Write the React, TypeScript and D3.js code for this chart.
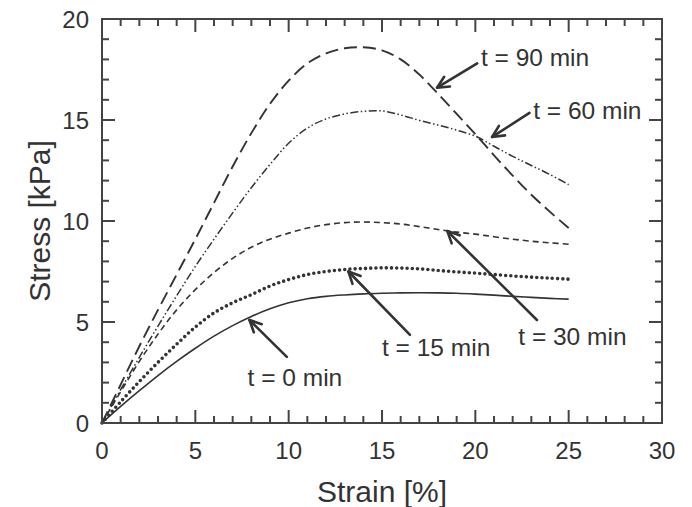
import React from "react";
import * as d3 from "d3";

const strain = [0,1,2,3,4,5,6,7,8,9,10,11,12,13,14,15,16,17,18,19,20,21,22,23,24,25];
const stress0 = [0,0.82,1.6,2.35,3.05,3.7,4.3,4.82,5.27,5.65,5.95,6.15,6.27,6.34,6.39,6.42,6.44,6.45,6.44,6.42,6.38,6.33,6.27,6.22,6.17,6.13];
const stress15 = [0,1.05,2.05,3.0,3.9,4.75,5.45,5.95,6.35,6.78,7.1,7.35,7.5,7.6,7.65,7.68,7.67,7.63,7.55,7.48,7.42,7.35,7.28,7.22,7.17,7.12];
const stress30 = [0,1.55,3.05,4.4,5.6,6.6,7.45,8.15,8.7,9.1,9.4,9.65,9.82,9.92,9.95,9.92,9.85,9.72,9.58,9.45,9.35,9.22,9.1,9.0,8.92,8.85];
const stress60 = [0,1.65,3.25,4.8,6.3,7.75,9.1,10.4,11.65,12.8,13.85,14.6,15.05,15.3,15.43,15.45,15.25,14.98,14.75,14.5,14.2,13.7,13.2,12.75,12.3,11.8];
const stress90 = [0,1.9,3.8,5.6,7.35,9.1,10.9,12.7,14.35,15.8,16.95,17.8,18.3,18.55,18.6,18.45,18.0,17.25,16.3,15.3,14.3,13.25,12.25,11.3,10.45,9.65];

const xTicks = [0,5,10,15,20,25,30];
const yTicks = [0,5,10,15,20];

const labels = ["t = 0 min","t = 15 min","t = 30 min","t = 60 min","t = 90 min"];
// annotation: text anchor position (data units), arrow tail and tip (data units)
const labelPos = [[7.8,1.85],[15.0,3.3],[22.3,3.87],[23.1,15.05],[20.3,17.65]];
const arrowTail = [[9.9,3.27],[16.5,4.36],[23.3,5.1],[22.9,15.35],[20.1,17.8]];
const arrowTip = [[7.9,5.1],[13.2,7.5],[18.5,9.5],[20.9,14.16],[17.95,16.6]];

const W = 692, H = 507;
const x = d3.scaleLinear().domain([0,30]).range([102,662]);
const y = d3.scaleLinear().domain([0,20]).range([423,19]);

const ink = "#333";

export default function App() {
  const line = d3.line<[number, number]>().x(d => x(d[0])).y(d => y(d[1])).curve(d3.curveCatmullRom.alpha(0.5));
  const mk = (arr: number[]) => line(strain.map((s, i) => [s, arr[i]] as [number, number])) || "";

  const minor = d3.range(0, 31, 1);
  const minorY = d3.range(0, 21, 1);
  const x0 = x(0), x1 = x(30), y0 = y(0), y1 = y(20);

  const arrows = arrowTail.map((t, i) => {
    const tx = x(t[0]), ty = y(t[1]);
    const hx = x(arrowTip[i][0]), hy = y(arrowTip[i][1]);
    const ang = Math.atan2(hy - ty, hx - tx);
    const L = 13, a = 0.45;
    const p1 = [hx - L * Math.cos(ang - a), hy - L * Math.sin(ang - a)];
    const p2 = [hx - L * Math.cos(ang + a), hy - L * Math.sin(ang + a)];
    return (
      <g key={i} stroke={ink} strokeWidth={2.6} fill="none" strokeLinecap="round" strokeLinejoin="round">
        <line x1={tx} y1={ty} x2={hx} y2={hy} />
        <polyline points={`${p1[0]},${p1[1]} ${hx},${hy} ${p2[0]},${p2[1]}`} />
      </g>
    );
  });

  return (
    <svg width={W} height={H} style={{ position: "absolute", left: 0, top: 0, background: "#fff" }}
      fontFamily="'Liberation Sans', Arial, Helvetica, sans-serif">
      <rect x={0} y={0} width={W} height={H} fill="#fff" />
      {/* curves */}
      <g fill="none" stroke={ink}>
        <path d={mk(stress0)} strokeWidth={1.6} />
        <path d={mk(stress15)} strokeWidth={3.6} strokeDasharray="0 5.2" strokeLinecap="round" />
        <path d={mk(stress30)} strokeWidth={1.6} strokeDasharray="6 4" />
        <path d={mk(stress60)} strokeWidth={1.5} strokeDasharray="8 2.5 1.5 2.5 1.5 2.5" />
        <path d={mk(stress90)} strokeWidth={1.9} strokeDasharray="13 6" />
      </g>
      {/* frame and ticks */}
      <g stroke="#444" strokeWidth={2}>
        <rect x={x0} y={y1} width={x1 - x0} height={y0 - y1} fill="none" />
        {minor.map(v => {
          const L = v % 5 === 0 ? 13 : 7;
          return (
            <g key={"x" + v}>
              <line x1={x(v)} x2={x(v)} y1={y0} y2={y0 - L} />
              <line x1={x(v)} x2={x(v)} y1={y1} y2={y1 + L} />
            </g>
          );
        })}
        {minorY.map(v => {
          const L = v % 5 === 0 ? 13 : 7;
          return (
            <g key={"y" + v}>
              <line y1={y(v)} y2={y(v)} x1={x0} x2={x0 + L} />
              <line y1={y(v)} y2={y(v)} x1={x1} x2={x1 - L} />
            </g>
          );
        })}
      </g>
      {/* tick labels */}
      <g fill={ink} fontSize={24}>
        {xTicks.map(v => (
          <text key={v} x={x(v)} y={y0 + 36} textAnchor="middle">{v}</text>
        ))}
        {yTicks.map(v => (
          <text key={v} x={x0 - 13} y={y(v) + 8.5} textAnchor="end">{v}</text>
        ))}
      </g>
      <text x={(x0 + x1) / 2} y={502} textAnchor="middle" fontSize={30} fill={ink}>Strain [%]</text>
      <text transform={`translate(50,${(y0 + y1) / 2}) rotate(-90)`} textAnchor="middle" fontSize={30} fill={ink}>Stress [kPa]</text>
      {/* annotations */}
      {arrows}
      <g fill={ink} fontSize={24.5}>
        {labels.map((l, i) => (
          <text key={i} x={x(labelPos[i][0])} y={y(labelPos[i][1])} textAnchor="start">{l}</text>
        ))}
      </g>
    </svg>
  );
}
